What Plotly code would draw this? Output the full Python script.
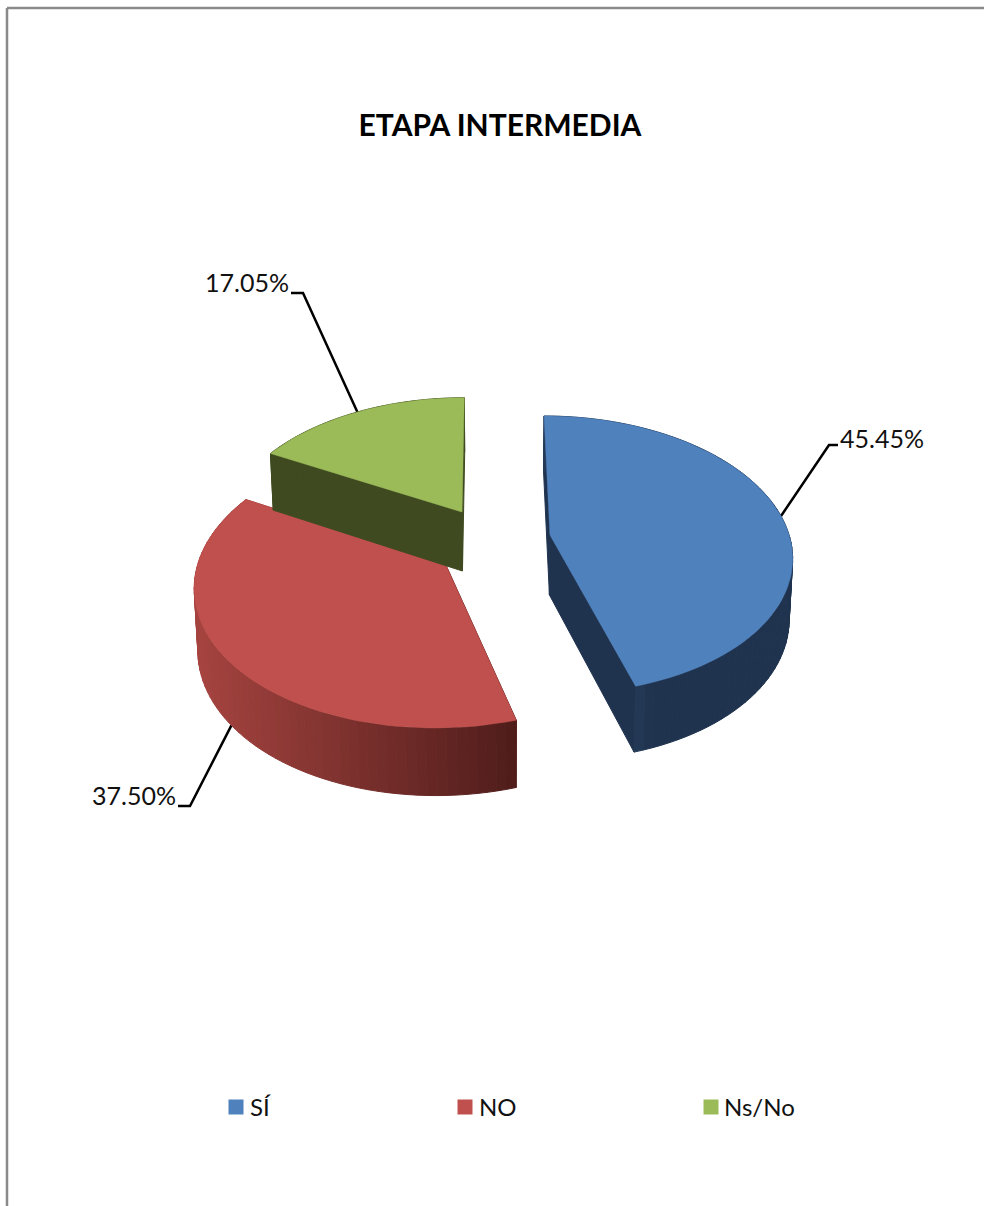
import math
import plotly.graph_objects as go

# Survey shares for the intermediate stage
categories = ["SÍ", "NO", "Ns/No"]
shares = [45.45, 37.50, 17.05]
title_text = "ETAPA INTERMEDIA"

top_colors = ["#4F81BD", "#C0504D", "#9BBB59"]
FONT = "Lato, sans-serif"

# Canvas is addressed in pixels so the projected pie can be laid out directly
WIDTH, HEIGHT = 984, 1206

# Perspective projection of a tilted disc
RADIUS_X, RADIUS_Y = 243.0, 136.0
PERSPECTIVE = 0.1425
VANISH_X = 500.7
# Exploded position of every slice apex, with its apparent scale and shear
apexes = [(550.0, 535.0), (445.0, 563.0), (462.0, 512.0)]
scale_x = [0.984, 1.016, 0.965]
scale_y = [1.0, 1.04, 0.96]
shear = [-6.8, 8.4, 2.6]

# Leader elbow, leader end, label anchor
leaders = [
    ((829, 445), (838, 445), (840, 442), "middle right"),
    ((190, 806), (178, 806), (176, 799), "middle left"),
    ((303, 293), (291, 293), (289, 286), "middle left"),
]
legend_x = [236, 465, 711]
legend_text_x = [250, 479, 724]
LEGEND_Y = 1107
LEGEND_TEXT_Y = 1110


def rim(i, angle):
    """Screen position of a rim point; angle runs clockwise from twelve o'clock."""
    sx, cy = math.sin(angle), math.cos(angle)
    w = 1 + PERSPECTIVE * cy
    ax, ay = apexes[i]
    return (ax + (RADIUS_X * scale_x[i] * sx + shear[i] * cy) / w,
            ay - RADIUS_Y * scale_y[i] * cy / w)


def drop(point):
    """Matching point on the underside of the slab."""
    x, y = point
    return (x + (VANISH_X - x) * 0.012, y + 59 + (y - 512) * 0.04)


def lerp_color(a, b, f):
    ca = [int(a[i:i + 2], 16) for i in (1, 3, 5)]
    cb = [int(b[i:i + 2], 16) for i in (1, 3, 5)]
    return "#" + "".join(f"{round(p + (q - p) * f):02X}" for p, q in zip(ca, cb))


def wall_color(index, x):
    if index == 0:
        f = min(max((x - 637) / 16, 0), 1)
        return lerp_color("#233955", "#1F334F", f)
    if index == 1:
        f = min(max((x - 198) / (515 - 198), 0), 1)
        return lerp_color("#A5433F", "#4F1D1B", f)
    return "#3F4A20"


def polygon(points, color, line=1.0):
    return go.Scatter(
        x=[p[0] for p in points] + [points[0][0]],
        y=[p[1] for p in points] + [points[0][1]],
        mode="lines",
        fill="toself",
        fillcolor=color,
        line=dict(color=color, width=line),
        hoverinfo="skip",
        showlegend=False,
    )


fig = go.Figure()

# Slice boundaries derived from the shares
total = sum(shares)
bounds = [0.0]
for value in shares:
    bounds.append(bounds[-1] + value / total * 2 * math.pi)

# Leader lines sit under the slab
for i, value in enumerate(shares):
    mid = (bounds[i] + bounds[i + 1]) / 2
    start = rim(i, mid)
    if i == 1:
        start = drop(start)
    elbow, end, _, _ = leaders[i]
    fig.add_trace(go.Scatter(
        x=[start[0], elbow[0], end[0]],
        y=[start[1], elbow[1], end[1]],
        mode="lines",
        line=dict(color="#000000", width=2.5),
        hoverinfo="skip",
        showlegend=False,
    ))

for i, value in enumerate(shares):
    apex = apexes[i]
    steps = max(8, int((bounds[i + 1] - bounds[i]) / math.radians(2)))
    angles = [bounds[i] + (bounds[i + 1] - bounds[i]) * k / steps for k in range(steps + 1)]
    arc = [rim(i, a) for a in angles]

    # Cut faces first, then the curved wall in narrow strips, then the top face
    cut_x = 700 if i == 0 else arc[-1][0]
    fig.add_trace(polygon([apex, arc[0], drop(arc[0]), drop(apex)], wall_color(i, 700)))
    fig.add_trace(polygon([apex, arc[-1], drop(arc[-1]), drop(apex)], wall_color(i, cut_x)))
    for p, q in zip(arc[:-1], arc[1:]):
        fig.add_trace(polygon([p, q, drop(q), drop(p)], wall_color(i, (p[0] + q[0]) / 2)))
    fig.add_trace(polygon([apex] + arc, top_colors[i], line=0.5))

# Percentage labels
for i, value in enumerate(shares):
    _, _, anchor, position = leaders[i]
    fig.add_trace(go.Scatter(
        x=[anchor[0]], y=[anchor[1]],
        mode="text",
        text=[f"{value:.2f}%"],
        textposition=position,
        textfont=dict(family=FONT, size=25, color="#111111"),
        hoverinfo="skip",
        showlegend=False,
    ))

# Legend row: swatches and their names
fig.add_trace(go.Scatter(
    x=legend_x,
    y=[LEGEND_Y] * len(categories),
    mode="markers",
    marker=dict(symbol="square", size=15, color=top_colors),
    hoverinfo="skip",
    showlegend=False,
))
fig.add_trace(go.Scatter(
    x=legend_text_x,
    y=[LEGEND_TEXT_Y] * len(categories),
    mode="text",
    text=categories,
    textposition="middle right",
    textfont=dict(family=FONT, size=24, color="#111111"),
    hoverinfo="skip",
    showlegend=False,
))

axis = dict(visible=False, fixedrange=True)
fig.update_layout(
    width=WIDTH,
    height=HEIGHT,
    margin=dict(l=0, r=0, t=0, b=0),
    paper_bgcolor="#FFFFFF",
    plot_bgcolor="#FFFFFF",
    showlegend=False,
    title=dict(
        text=f"<b>{title_text}</b>",
        x=500 / WIDTH, xanchor="center",
        y=1 - 125 / HEIGHT, yanchor="middle",
        font=dict(family=FONT, size=30, color="#000000"),
    ),
    xaxis=dict(range=[0, WIDTH], **axis),
    yaxis=dict(range=[HEIGHT, 0], **axis),
    shapes=[
        dict(type="line", x0=7, x1=7, y0=8, y1=HEIGHT,
             line=dict(color="#8A8A8A", width=2.5)),
        dict(type="line", x0=7, x1=WIDTH, y0=8, y1=8,
             line=dict(color="#8A8A8A", width=2.5)),
    ],
)

fig.write_html("out.html")
